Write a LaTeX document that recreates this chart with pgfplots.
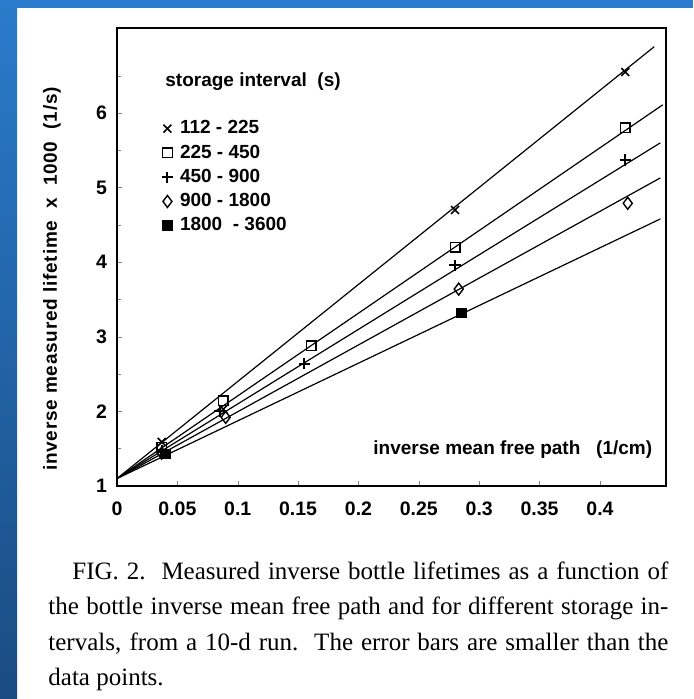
\documentclass[border=0pt]{standalone}
\usepackage{fontspec}
\setmainfont{Liberation Serif}
\newfontfamily\chartfont{Liberation Sans}
\newfontfamily\chartwide{Liberation Sans}[LetterSpace=4]
\usepackage{pgfplots}
\pgfplotsset{compat=1.18}
\definecolor{bandtop}{HTML}{2A7BCB}
\definecolor{bandbot}{HTML}{1A4C82}

\begin{document}
\begin{tikzpicture}
\path[use as bounding box, fill=white] (0,0) rectangle (346.5pt,349.5pt);
\shade[top color=bandtop, bottom color=bandbot] (0,0) rectangle (8.5pt,349.5pt);
\fill[bandtop] (0,345.5pt) rectangle (346.5pt,349.5pt);
\begin{axis}[
  scale only axis, width=274.5pt, height=229pt,
  at={(58.5pt,106.5pt)}, anchor=south west,
  xmin=0, xmax=0.4547, ymin=1, ymax=7.14,
  axis line style={line width=0.8pt},
  xtick={0,0.05,0.1,0.15,0.2,0.25,0.3,0.35,0.4},
  xticklabels={0,0.05,0.1,0.15,0.2,0.25,0.3,0.35,0.4},
  ytick={1,2,3,4,5,6},
  yticklabels={1,2,3,4,5,6},
  minor ytick={1.5,2.5,3.5,4.5,5.5,6.5},
  tick pos=left, tick align=inside,
  major tick length=2.5pt, minor tick length=2pt,
  /pgf/number format/assume math mode=true,
  ticklabel style={font=\chartfont\bfseries\fontsize{9.75}{11}\selectfont},
  xticklabel style={yshift=-4.5pt},
  yticklabel style={xshift=-1.5pt},
  legend cell align=left,
  legend style={draw=none, fill=none, at={(axis description cs:0.070,0.812)}, anchor=north west,
    font=\chartfont\bfseries\fontsize{9.5}{11}\selectfont, row sep=2pt,
    nodes={inner ysep=1pt, inner xsep=3.5pt}},
]
% data markers
\addplot[only marks, mark=x, mark size=2.8pt, line width=0.8pt, black]
  coordinates {(0.037,1.59) (0.088,2.03) (0.280,4.70) (0.421,6.55)};
\addlegendentry{112 - 225}
\addplot[only marks, mark=square, mark size=2.4pt, line width=0.7pt, black, mark options={fill=white}]
  coordinates {(0.037,1.52) (0.088,2.14) (0.161,2.88) (0.280,4.20) (0.421,5.80)};
\addlegendentry{225 - 450}
\addplot[only marks, mark=+, mark size=2.8pt, line width=1pt, black]
  coordinates {(0.037,1.48) (0.085,2.00) (0.155,2.64) (0.280,3.96) (0.421,5.37)};
\addlegendentry{450 - 900}
\addplot[only marks, mark=diamond, mark size=3pt, line width=0.7pt, black, mark options={fill=white}]
  coordinates {(0.037,1.44) (0.090,1.92) (0.283,3.64) (0.423,4.79)};
\addlegendentry{900 - 1800}
\addplot[only marks, mark=square*, mark size=2.4pt, black]
  coordinates {(0.040,1.43) (0.285,3.32)};
\addlegendentry{1800\ \ - 3600}
% fitted lines
\addplot[black, line width=0.6pt, forget plot] coordinates {(0,1.1) (0.445,6.89)};
\addplot[black, line width=0.6pt, forget plot] coordinates {(0,1.1) (0.452,6.11)};
\addplot[black, line width=0.6pt, forget plot] coordinates {(0,1.1) (0.450,5.60)};
\addplot[black, line width=0.6pt, forget plot] coordinates {(0,1.1) (0.450,5.13)};
\addplot[black, line width=0.6pt, forget plot] coordinates {(0,1.1) (0.450,4.58)};
\node[anchor=west, font=\chartfont\bfseries\fontsize{9.5}{11}\selectfont, inner sep=0pt]
  at (axis description cs:0.0874,0.882) {storage\ interval\ \ (s)};
\node[anchor=center, font=\chartfont\bfseries\fontsize{9.5}{11}\selectfont, inner sep=0pt]
  at (axis description cs:0.721,0.0786) {inverse\ mean\ free\ path\ \ \ (1/cm)};
\end{axis}
\node[anchor=center, rotate=90, font=\chartwide\bfseries\fontsize{9.5}{11}\selectfont, inner sep=0pt]
  at (26pt,210pt) {inverse\ measured\ lifetime\ \ x\ \ 1000\ \ (1/s)};
\node[anchor=north west, text width=310pt, align=justify, inner sep=0pt,
  font=\fontsize{12.5}{17.75}\selectfont] at (24pt,69pt)
  {\hspace*{12pt}FIG.~2.\ \ Measured inverse bottle lifetimes as a function of\linebreak
   the bottle inverse mean free path and for different storage in-\linebreak
   tervals, from a 10-d run.\ \ The error bars are smaller than the\linebreak
   data points.};
\end{tikzpicture}
\end{document}
